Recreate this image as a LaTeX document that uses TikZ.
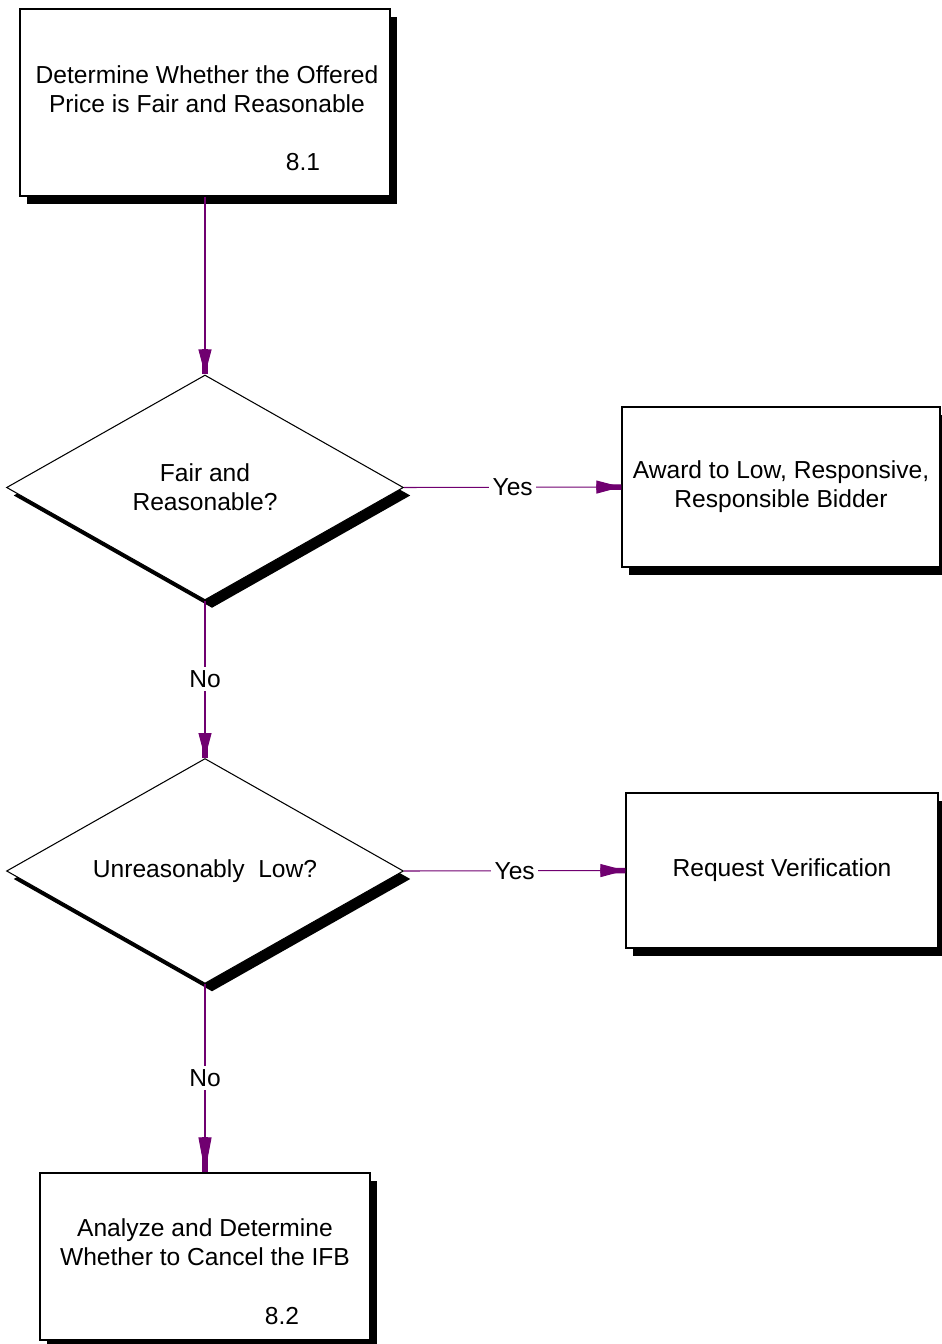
\documentclass[tikz,border=0pt]{standalone}
\usepackage{fontspec}
\setmainfont{Liberation Sans}
\usetikzlibrary{shapes.geometric,shadows,arrows.meta}
\definecolor{flowpurple}{RGB}{112,0,112}

\begin{document}
\begin{tikzpicture}[x=0.02cm, y=-0.02cm,
    font=\fontsize{14pt}{16.5pt}\selectfont,
    blockshadow/.style={general shadow={fill=black, shadow xshift=0.14cm, shadow yshift=-0.16cm}},
    procbox/.style={draw, line width=0.8pt, fill=white, inner sep=0pt, align=center, blockshadow},
    decision/.style={diamond, draw, line width=0.6pt, fill=white, aspect=1.76,
        minimum width=7.94cm, minimum height=4.5cm, inner sep=0pt, align=center, blockshadow},
    flow/.style={draw=flowpurple, line width=0.6pt,
        -{Rectangle[length=0.5cm, width=0.11cm, sep=-0.5cm] Triangle[length=0.5cm, width=0.26cm]}},
    longflow/.style={flow,
        -{Rectangle[length=0.7cm, width=0.11cm, sep=-0.7cm] Triangle[length=0.7cm, width=0.26cm]}},
    answer/.style={fill=white, inner sep=2pt}]

    % page frame
    \useasboundingbox (0,0) rectangle (941,1344);

    % Process 8.1
    \node[procbox, minimum width=7.4cm, minimum height=3.74cm] (determine) at (205,102.5) {};
    \node[align=center] (determinetxt) at (207,89) {Determine Whether the Offered\\Price is Fair and Reasonable};
    \node (num81) at (303,162) {8.1};

    % Decisions
    \node[decision] (fair) at (205,487.5) {Fair and\\Reasonable?};
    \node[decision] (low) at (205,871) {Unreasonably~ Low?};

    % Outcomes
    \node[procbox, minimum width=6.36cm, minimum height=3.2cm] (award) at (781,487) {Award to Low, Responsive,\\Responsible Bidder};
    \node[procbox, minimum width=6.24cm, minimum height=3.1cm] (verify) at (782,870.5) {Request Verification};

    % Process 8.2
    \node[procbox, minimum width=6.6cm, minimum height=3.34cm] (cancel) at (205,1256.5) {};
    \node[align=center] (canceltxt) at (205,1242) {Analyze and Determine\\Whether to Cancel the IFB};
    \node (num82) at (282,1316) {8.2};

    % Connectors
    \draw[flow] (determine.south) -- (fair.north);
    \draw[flow] (fair.east) -- node[answer] {Yes} (award.west);
    \draw[flow] (fair.south) -- node[answer] {No} (low.north);
    \draw[flow] (low.east) -- node[answer] {Yes} (verify.west);
    \draw[longflow] (low.south) -- node[answer] {No} (cancel.north);
\end{tikzpicture}
\end{document}
